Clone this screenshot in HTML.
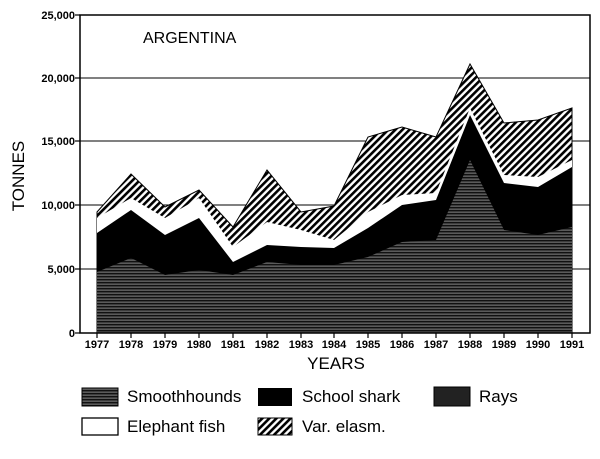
<!DOCTYPE html>
<html><head><meta charset="utf-8"><style>
body{margin:0;background:#fff;}
svg{display:block;font-family:"Liberation Sans",Arial,sans-serif;}
</style></head><body>
<svg width="600" height="459" viewBox="0 0 600 459" xmlns="http://www.w3.org/2000/svg">
<defs>
<pattern id="hl" width="6" height="3" patternUnits="userSpaceOnUse"><rect width="6" height="3" fill="#5a5a5a"/><rect width="6" height="1.4" fill="#111"/></pattern>
<pattern id="dg" width="5" height="5" patternUnits="userSpaceOnUse" patternTransform="rotate(45)"><rect width="5" height="5" fill="#fff"/><rect width="2.6" height="5" fill="#000"/></pattern>
</defs>
<!-- gridlines -->
<g stroke="#000" stroke-width="1">
<line x1="80" y1="78" x2="590" y2="78"/>
<line x1="80" y1="141" x2="590" y2="141"/>
<line x1="80" y1="205" x2="590" y2="205"/>
<line x1="80" y1="269" x2="590" y2="269"/>
</g>
<!-- areas -->
<polygon fill="url(#dg)" stroke="#000" stroke-width="1" points="97,212 131,174 165,207 199,190 233,227 267,170 301,212 334,206 368,137 402,127 436,137 470,64 504,123 538,120 572,108 572,333 97,333"/>
<polygon fill="#fff" points="97,218 131,198 165,218 199,198 233,247 267,222 301,230 334,240 368,212 402,195 436,193 470,108 504,175 538,177 572,160 572,333 97,333"/>
<polygon fill="#000" points="97,233 131,210 165,235 199,218 233,262 267,245 301,247 334,248 368,228 402,205 436,200 470,115 504,183 538,187 572,167 572,333 97,333"/>
<polygon fill="url(#hl)" points="97,272 131,258 165,275 199,270 233,275 267,262 301,265 334,265 368,257 402,242 436,240 470,160 504,230 538,235 572,227 572,333 97,333"/>
<!-- frame -->
<rect x="80" y="15" width="510" height="318" fill="none" stroke="#000" stroke-width="1.5"/>
<g stroke="#000" stroke-width="1.2">
<line x1="75" y1="15" x2="80" y2="15"/><line x1="75" y1="78" x2="80" y2="78"/><line x1="75" y1="141" x2="80" y2="141"/><line x1="75" y1="205" x2="80" y2="205"/><line x1="75" y1="269" x2="80" y2="269"/><line x1="75" y1="333" x2="80" y2="333"/>
<line x1="97" y1="333" x2="97" y2="338"/><line x1="131" y1="333" x2="131" y2="338"/><line x1="165" y1="333" x2="165" y2="338"/><line x1="199" y1="333" x2="199" y2="338"/><line x1="233" y1="333" x2="233" y2="338"/><line x1="267" y1="333" x2="267" y2="338"/><line x1="301" y1="333" x2="301" y2="338"/><line x1="334" y1="333" x2="334" y2="338"/><line x1="368" y1="333" x2="368" y2="338"/><line x1="402" y1="333" x2="402" y2="338"/><line x1="436" y1="333" x2="436" y2="338"/><line x1="470" y1="333" x2="470" y2="338"/><line x1="504" y1="333" x2="504" y2="338"/><line x1="538" y1="333" x2="538" y2="338"/><line x1="572" y1="333" x2="572" y2="338"/>
</g>
<g font-size="11" font-weight="bold" text-anchor="end">
<text x="75" y="19">25,000</text><text x="75" y="82">20,000</text><text x="75" y="145">15,000</text><text x="75" y="209">10,000</text><text x="75" y="273">5,000</text><text x="75" y="337">0</text>
</g>
<g font-size="11" font-weight="bold" text-anchor="middle">
<text x="97" y="348">1977</text><text x="131" y="348">1978</text><text x="165" y="348">1979</text><text x="199" y="348">1980</text><text x="233" y="348">1981</text><text x="267" y="348">1982</text><text x="301" y="348">1983</text><text x="334" y="348">1984</text><text x="368" y="348">1985</text><text x="402" y="348">1986</text><text x="436" y="348">1987</text><text x="470" y="348">1988</text><text x="504" y="348">1989</text><text x="538" y="348">1990</text><text x="572" y="348">1991</text>
</g>
<text x="143" y="43" font-size="16">ARGENTINA</text>
<text x="336" y="369" font-size="17" text-anchor="middle">YEARS</text>
<text transform="translate(24,176) rotate(-90)" font-size="17" text-anchor="middle">TONNES</text>
<!-- legend -->
<rect x="82" y="388" width="36" height="18" fill="url(#hl)" stroke="#000"/>
<text x="127" y="402" font-size="17">Smoothhounds</text>
<rect x="258" y="388" width="34" height="18" fill="#000"/>
<text x="302" y="402" font-size="17">School shark</text>
<rect x="434" y="387" width="36" height="19" fill="#222" stroke="#000"/>
<text x="479" y="402" font-size="17">Rays</text>
<rect x="82" y="418" width="36" height="17" fill="#fff" stroke="#000" stroke-width="1.3"/>
<text x="127" y="432" font-size="17">Elephant fish</text>
<rect x="258" y="418" width="34" height="17" fill="url(#dg)" stroke="#000"/>
<text x="302" y="432" font-size="17">Var. elasm.</text>
</svg>
</body></html>
